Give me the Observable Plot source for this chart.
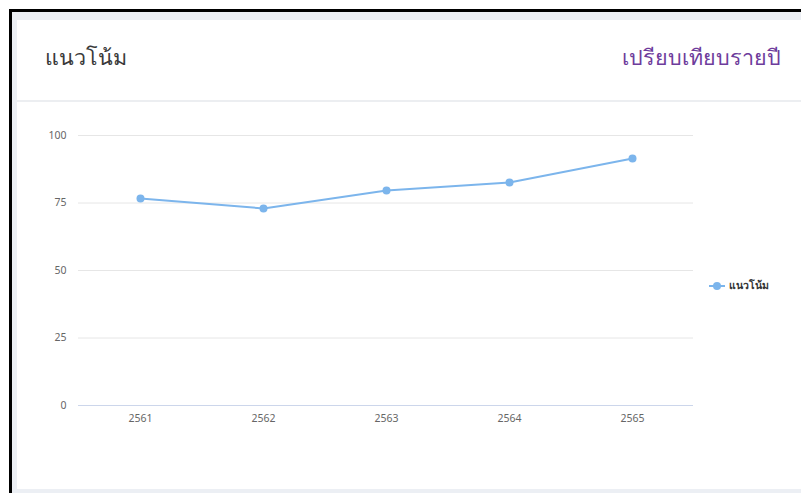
<!DOCTYPE html>
<html>
<head>
<meta charset="utf-8">
<script src="https://cdn.jsdelivr.net/npm/d3@7"></script>
<script src="https://cdn.jsdelivr.net/npm/@observablehq/plot@0.6"></script>
<style>
  html, body { margin: 0; padding: 0; background: #fff; overflow: hidden; }
  body { width: 801px; height: 493px; position: relative; font-family: "Noto Sans", "Open Sans", sans-serif; }
  #outer { position: absolute; left: 9px; top: 9px; width: 792px; height: 484px;
           border-left: 3px solid #000; border-top: 3px solid #000; background: #eceff4; box-sizing: border-box; }
  #card { position: absolute; left: 5px; top: 8px; width: 800px; height: 469px; background: #fff; }
  #header { position: absolute; left: 0; top: 0; width: 100%; height: 80px; border-bottom: 2px solid #eceef1; }
  #title { position: absolute; left: 28px; top: 20px; font-size: 21.5px; color: #3a3a3a; }
  #sub { position: absolute; right: 36px; top: 20px; font-size: 21.5px; color: #6e3c9c; }
  #chart { position: absolute; left: 0; top: 82px; }
  #legend { position: absolute; left: 692px; top: 257px; font-size: 10.5px; font-weight: bold; color: #333; display: flex; align-items: center; }
  #legend svg { margin-right: 4px; }
</style>
</head>
<body>
<div id="outer">
  <div id="card">
    <div id="header">
      <div id="title">แนวโน้ม</div>
      <div id="sub">เปรียบเทียบรายปี</div>
    </div>
    <div id="chart"></div>
    <div id="legend"><svg width="16" height="10"><line x1="0" x2="16" y1="5" y2="5" stroke="#7cb5ec" stroke-width="2"/><circle cx="8" cy="5" r="4" fill="#7cb5ec"/></svg><span>แนวโน้ม</span></div>
  </div>
</div>
<script>
const years = ["2561", "2562", "2563", "2564", "2565"];
const values = [76.7, 73.0, 79.6, 82.6, 91.5];
const yTicks = [0, 25, 50, 75, 100];
const seriesName = "แนวโน้ม";

const data = years.map((y, i) => ({year: y, value: values[i], series: seriesName}));

const plot = Plot.plot({
  width: 784,
  height: 387,
  marginLeft: 61,
  marginRight: 108,
  marginTop: 33,
  marginBottom: 84,
  style: { fontFamily: "'Noto Sans', 'Open Sans', sans-serif", fontSize: "10.5px", color: "#666", background: "transparent" },
  x: { type: "point", domain: years, padding: 0.5, label: null },
  y: { domain: [0, 100], ticks: yTicks, label: null },
  marks: [
    Plot.gridY(yTicks.filter(d => d > 0), { stroke: "#e6e6e6", strokeOpacity: 1, strokeWidth: 1 }),
    Plot.ruleY([0], { stroke: "#ccd6eb", strokeWidth: 1 }),
    Plot.axisY({ ticks: yTicks, tickSize: 0, tickPadding: 12, fill: "#666", fontSize: 10.5 }),
    Plot.axisX({ tickSize: 0, tickPadding: 9, fill: "#666", fontSize: 10.5 }),
    Plot.lineY(data, { x: "year", y: "value", stroke: "#7cb5ec", strokeWidth: 2 }),
    Plot.dot(data, { x: "year", y: "value", r: 4, fill: "#7cb5ec" })
  ]
});
document.getElementById("chart").appendChild(plot);
</script>
</body>
</html>
